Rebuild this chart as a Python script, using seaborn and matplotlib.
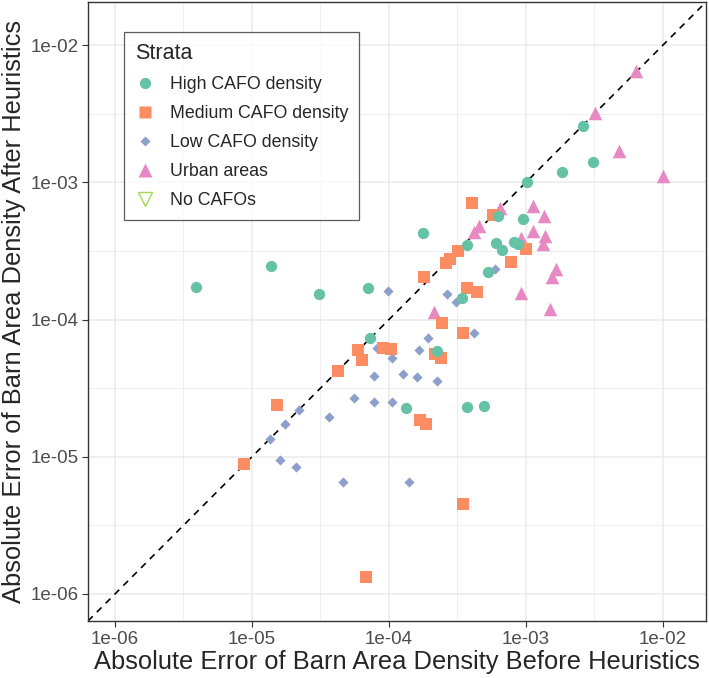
import numpy as np
import pandas as pd
import matplotlib
matplotlib.use("Agg")
import matplotlib.pyplot as plt
import seaborn as sns
from matplotlib.lines import Line2D
from matplotlib.ticker import FixedLocator, FuncFormatter, NullFormatter

# values
high_before = [3.9e-6, 1.37e-5, 3.08e-5, 7.06e-5, 7.3e-5, 1.78e-4, 3.71e-4, 9.55e-4, 6.0e-4, 6.65e-4,
               8.2e-4, 8.8e-4, 5.25e-4, 3.4e-4, 6.2e-4, 1.01e-3, 1.82e-3, 3.07e-3, 2.59e-3, 3.69e-4,
               4.91e-4, 1.33e-4, 2.25e-4]
high_after = [1.72e-4, 2.47e-4, 1.53e-4, 1.69e-4, 7.3e-5, 4.27e-4, 3.48e-4, 5.4e-4, 3.6e-4, 3.21e-4,
              3.69e-4, 3.53e-4, 2.21e-4, 1.43e-4, 5.7e-4, 1.0e-3, 1.19e-3, 1.41e-3, 2.57e-3, 2.31e-5,
              2.36e-5, 2.28e-5, 5.88e-5]

med_before = [8.8e-6, 6.8e-5, 3.45e-4, 1.53e-5, 4.21e-5, 5.97e-5, 6.38e-5, 9.08e-5, 1.03e-4, 1.68e-4,
              1.86e-4, 2.45e-4, 3.45e-4, 2.17e-4, 2.38e-4, 1.8e-4, 2.59e-4, 2.79e-4, 3.17e-4, 4.06e-4,
              5.77e-4, 7.78e-4, 1.0e-3, 3.69e-4, 4.36e-4]
med_after = [8.8e-6, 1.34e-6, 4.5e-6, 2.39e-5, 4.25e-5, 6.0e-5, 5.06e-5, 6.24e-5, 6.1e-5, 1.86e-5,
             1.73e-5, 9.5e-5, 7.98e-5, 5.59e-5, 5.27e-5, 2.05e-4, 2.57e-4, 2.75e-4, 3.16e-4, 7.03e-4,
             5.78e-4, 2.64e-4, 3.27e-4, 1.69e-4, 1.58e-4]

low_before = [1.35e-5, 1.74e-5, 2.19e-5, 1.61e-5, 2.09e-5, 4.63e-5, 3.63e-5, 5.56e-5, 7.73e-5, 1.4e-4,
              1.05e-4, 9.89e-5, 8.13e-5, 1.05e-4, 7.78e-5, 1.27e-4, 1.59e-4, 1.66e-4, 1.94e-4, 2.23e-4,
              4.17e-4, 2.64e-4, 3.07e-4, 5.94e-4]
low_after = [1.34e-5, 1.73e-5, 2.18e-5, 9.44e-6, 8.39e-6, 6.6e-6, 1.96e-5, 2.67e-5, 2.5e-5, 6.6e-6,
             2.52e-5, 1.62e-4, 6.24e-5, 5.23e-5, 3.9e-5, 4.03e-5, 3.8e-5, 6.0e-5, 7.3e-5, 3.59e-5,
             7.94e-5, 1.53e-4, 1.34e-4, 2.34e-4]

urban_before = [6.35e-3, 3.19e-3, 4.8e-3, 1.0e-2, 6.45e-4, 4.54e-4, 4.17e-4, 1.13e-3, 1.35e-3, 1.13e-3,
                1.38e-3, 1.32e-3, 9.2e-4, 1.66e-3, 1.54e-3, 9.2e-4, 1.5e-3, 2.14e-4]
urban_after = [6.5e-3, 3.21e-3, 1.7e-3, 1.12e-3, 6.47e-4, 4.81e-4, 4.35e-4, 6.71e-4, 5.71e-4, 4.45e-4,
               4.06e-4, 3.53e-4, 3.91e-4, 2.32e-4, 2.05e-4, 1.57e-4, 1.19e-4, 1.14e-4]

strata = ["High CAFO density", "Medium CAFO density", "Low CAFO density", "Urban areas", "No CAFOs"]
tick_vals = [1e-6, 1e-5, 1e-4, 1e-3, 1e-2]

df = pd.concat([
    pd.DataFrame({"before": high_before, "after": high_after, "strata": strata[0]}),
    pd.DataFrame({"before": med_before, "after": med_after, "strata": strata[1]}),
    pd.DataFrame({"before": low_before, "after": low_after, "strata": strata[2]}),
    pd.DataFrame({"before": urban_before, "after": urban_after, "strata": strata[3]}),
], ignore_index=True)

colors = dict(zip(strata, ["#66C2A5", "#FC8D62", "#8DA0CB", "#E78AC3", "#A6D854"]))
markers = {strata[0]: "o", strata[1]: "s", strata[2]: "D", strata[3]: "^", strata[4]: "v"}
sizes = {strata[0]: 66, strata[1]: 70, strata[2]: 27, strata[3]: 95}

sns.set_style("white")
plt.rcParams["font.family"] = ["Liberation Sans", "DejaVu Sans"]

fig = plt.figure(figsize=(7.09, 6.78), dpi=100)
ax = fig.add_axes([88 / 709, 1 - 621 / 678, 618 / 709, 619 / 678])

ax.set_xscale("log")
ax.set_yscale("log")
lo, hi = 10 ** -6.197, 10 ** -1.686
ax.set_xlim(lo, hi)
ax.set_ylim(lo, hi)

ax.axline((1e-6, 1e-6), (1e-2, 1e-2), color="black", lw=1.2, ls=(0, (4, 3.5)), zorder=2)

# draw order
for s in [strata[3], strata[2], strata[1], strata[0]]:
    sub = df[df["strata"] == s]
    sns.scatterplot(data=sub, x="before", y="after", ax=ax, marker=markers[s],
                    color=colors[s], s=sizes[s], linewidth=0, legend=False, zorder=3)

# grid
minor_vals = [10 ** (k + 0.5) for k in range(-7, -1)]
ax.xaxis.set_major_locator(FixedLocator(tick_vals))
ax.yaxis.set_major_locator(FixedLocator(tick_vals))
ax.xaxis.set_minor_locator(FixedLocator(minor_vals))
ax.yaxis.set_minor_locator(FixedLocator(minor_vals))
ax.xaxis.set_minor_formatter(NullFormatter())
ax.yaxis.set_minor_formatter(NullFormatter())
fmt = FuncFormatter(lambda v, p: f"{v:.0e}")
ax.xaxis.set_major_formatter(fmt)
ax.yaxis.set_major_formatter(fmt)
ax.grid(True, which="major", color="#EBEBEB", lw=1.1, zorder=0)
ax.grid(True, which="minor", color="#EBEBEB", lw=0.6, zorder=0)
ax.set_axisbelow(True)
ax.tick_params(which="major", direction="out", length=4, width=0.8, color="#333333",
               labelsize=13.5, labelcolor="#4D4D4D", pad=3, left=True, bottom=True)
ax.tick_params(which="minor", length=0)
for sp in ax.spines.values():
    sp.set_color("#333333")
    sp.set_linewidth(1.0)

ax.set_xlabel("Absolute Error of Barn Area Density Before Heuristics", fontsize=18.4, labelpad=2)
ax.set_ylabel("Absolute Error of Barn Area Density After Heuristics", fontsize=18.4, labelpad=3)

handles = [
    Line2D([], [], ls="", marker="o", ms=8.1, mfc=colors[strata[0]], mec="none"),
    Line2D([], [], ls="", marker="s", ms=8.4, mfc=colors[strata[1]], mec="none"),
    Line2D([], [], ls="", marker="D", ms=5.2, mfc=colors[strata[2]], mec="none"),
    Line2D([], [], ls="", marker="^", ms=9.8, mfc=colors[strata[3]], mec="none"),
    Line2D([], [], ls="", marker="v", ms=9.8, mfc="none", mec=colors[strata[4]], mew=1.0),
]
leg = ax.legend(handles, strata, title="Strata", loc="upper left",
                bbox_to_anchor=((124 - 88) / 618, 1 - (32 - 2) / 619),
                fontsize=12.8, title_fontsize=15.5, frameon=True, fancybox=False,
                edgecolor="#333333", borderpad=0.6, labelspacing=0.68,
                handlelength=1.2, handletextpad=0.8, borderaxespad=0)
leg._legend_box.align = "left"
leg.get_frame().set_linewidth(0.9)

fig.savefig("out.png", dpi=100)
